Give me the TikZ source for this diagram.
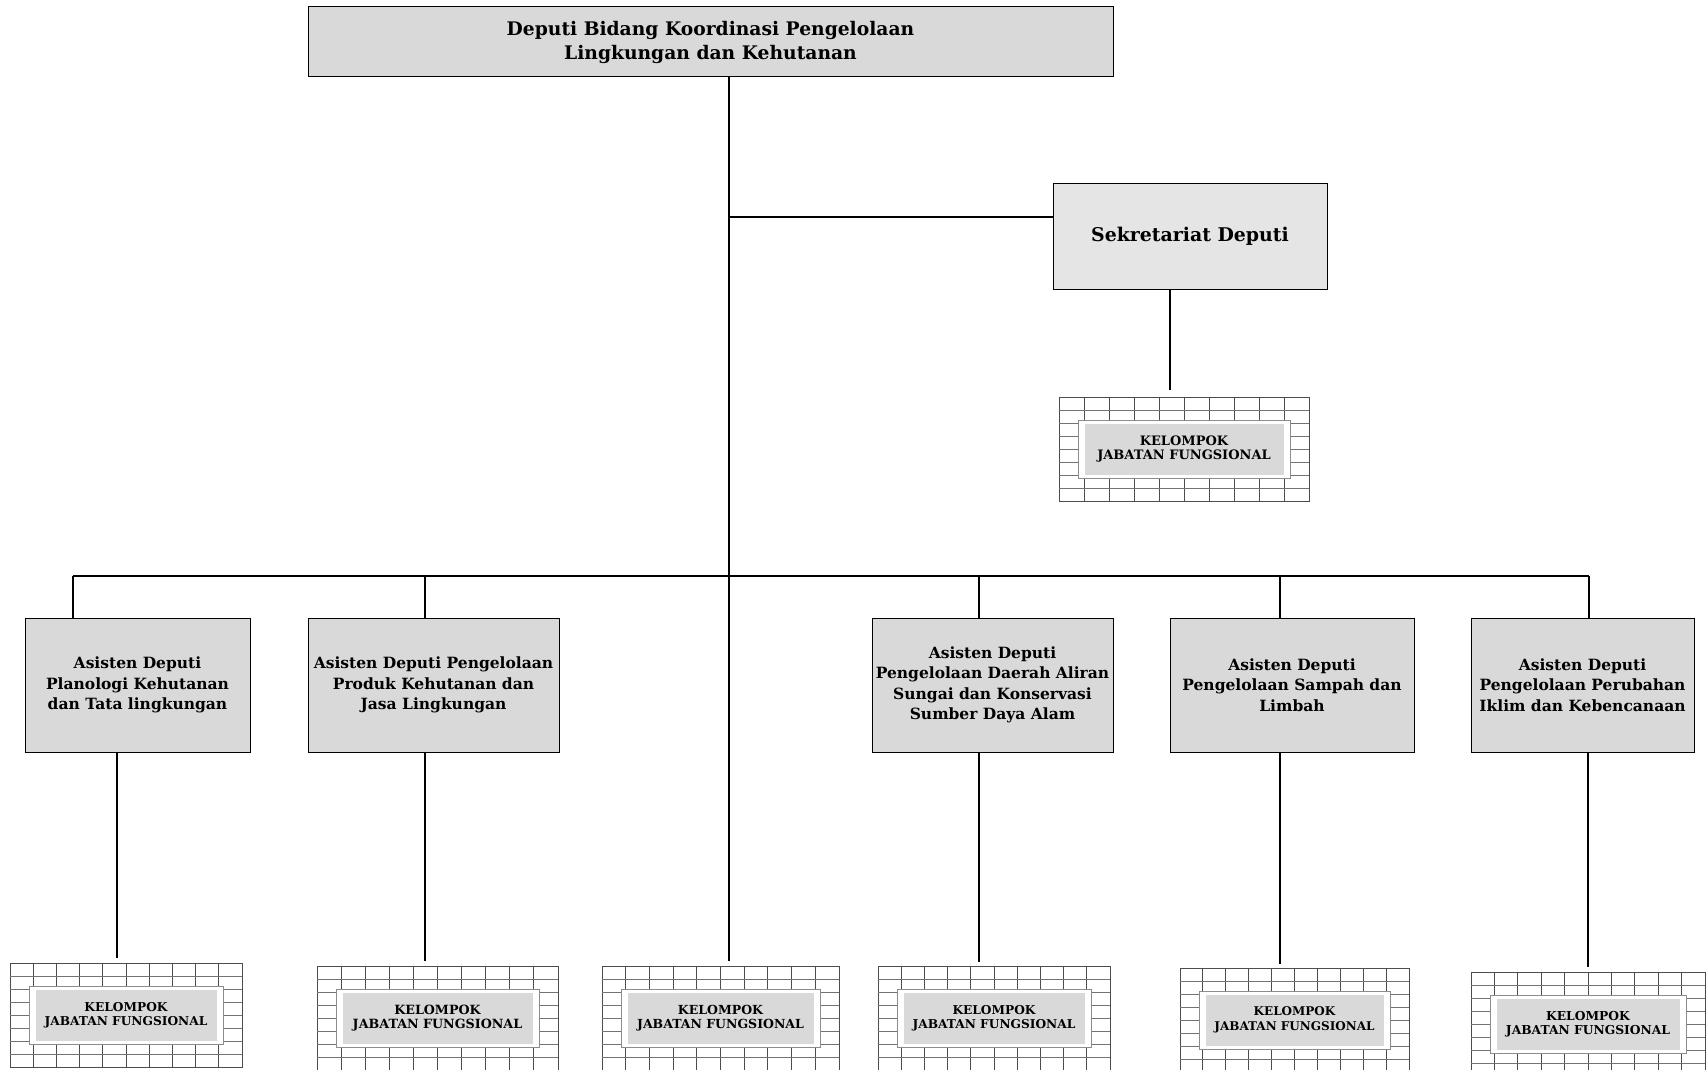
\documentclass[tikz,border=0pt]{standalone}
\usepackage{fontspec}
\setmainfont{DejaVu Serif}
\usetikzlibrary{calc}
\tikzset{
  conn/.style={line width=1.1pt, black},
  orgbox/.style={draw=black, line width=1pt, fill=black!15, inner sep=0pt, outer sep=0pt,
    align=center, anchor=north west, font=\bfseries\fontsize{15.5}{20.5}\selectfont},
  gridouter/.style={draw=black!70, line width=0.9pt, fill=white, inner sep=0pt, outer sep=0pt},
  gridv/.style={line width=0.9pt, black!70},
  gridh/.style={line width=0.9pt, black!55},
  kjfwhite/.style={draw=black!45, line width=1pt, fill=white, inner sep=0pt, outer sep=0pt},
  kjfgray/.style={fill=black!15, inner sep=0pt, outer sep=0pt, align=center},
}
\newcommand{\kjfbox}[6]{%
  \node[gridouter, anchor=north west, minimum width={(#4-#2)*1pt}, minimum height={(#5-#3)*1pt}] (#1) at (#2,#3) {};
  \foreach \i in {1,...,9}{\draw[gridv] ($(#1.north west)!\i/10!(#1.north east)$) -- ($(#1.south west)!\i/10!(#1.south east)$);}
  \foreach \j in {1,...,7}{\draw[gridh] ($(#1.north west)!\j/8!(#1.south west)$) -- ($(#1.north east)!\j/8!(#1.south east)$);}
  \node[kjfwhite, minimum width={(#4-#2-38)*1pt}, minimum height={(#5-#3-46)*1pt}] (#1w) at (#1.center) {};
  \node[kjfgray, minimum width={(#4-#2-51)*1pt}, minimum height={(#5-#3-53)*1pt},
    font=\bfseries\fontsize{#6}{14.5}\selectfont] (#1t) at (#1.center) {KELOMPOK\\JABATAN FUNGSIONAL};
}
\begin{document}
\begin{tikzpicture}[x=1pt,y=-1pt]
\useasboundingbox[fill=white] (0,0) rectangle (1708,1070);
% boxes
\node[orgbox, minimum width=805pt, minimum height=70pt, font=\bfseries\fontsize{18.7}{24}\selectfont] (top) at (308,7)
  {Deputi Bidang Koordinasi Pengelolaan\\Lingkungan dan Kehutanan};
\node[orgbox, fill=black!10, minimum width=274pt, minimum height=106pt, font=\bfseries\fontsize{18.9}{24}\selectfont] (sek) at (1053,183)
  {Sekretariat Deputi};
\node[orgbox, minimum width=225pt, minimum height=134pt] (a1) at (25,618)
  {Asisten Deputi\\Planologi Kehutanan\\dan Tata lingkungan};
\node[orgbox, minimum width=251pt, minimum height=134pt] (a2) at (308,618)
  {Asisten Deputi Pengelolaan\\Produk Kehutanan dan\\Jasa Lingkungan};
\node[orgbox, minimum width=241pt, minimum height=134pt] (a4) at (872,618)
  {Asisten Deputi\\Pengelolaan Daerah Aliran\\Sungai dan Konservasi\\Sumber Daya Alam};
\node[orgbox, minimum width=244pt, minimum height=134pt] (a5) at (1170,618)
  {Asisten Deputi\\Pengelolaan Sampah dan\\Limbah};
\node[orgbox, minimum width=223pt, minimum height=134pt] (a6) at (1471,618)
  {Asisten Deputi\\Pengelolaan Perubahan\\Iklim dan Kebencanaan};
% functional groups
\kjfbox{gs}{1059}{397}{1309}{501}{13}
\kjfbox{g1}{10}{963}{242}{1067}{12.2}
\kjfbox{g2}{317}{966}{558}{1070}{12.7}
\kjfbox{g3}{602}{966}{839}{1070}{12.5}
\kjfbox{g4}{878}{966}{1110}{1070}{12.2}
\kjfbox{g5}{1180}{968}{1409}{1072}{12}
\kjfbox{g6}{1471}{972}{1705}{1076}{12.3}
% junction coordinates
\coordinate (jS) at (729,217);
\coordinate (jB) at (729,576);
\coordinate (sd) at (1170,0);
\coordinate (d1) at (73,576);
\coordinate (d2) at (425,576);
\coordinate (d4) at (979,576);
\coordinate (d5) at (1280,576);
\coordinate (d6) at (1589,576);
\coordinate (l1) at (117,0);
\coordinate (l2) at (425,0);
\coordinate (l4) at (979,0);
\coordinate (l5) at (1280,0);
\coordinate (l6) at (1588,0);
% connectors
\draw[conn] (top.south -| jS) -- (jS) -- (jB) -- ([yshift=5pt]g3.north -| jB);
\draw[conn] (jS) -- (sek.west |- jS);
\draw[conn] (sek.south -| sd) -- ([yshift=7pt]gs.north -| sd);
\draw[conn] (d1) -- (d6);
\draw[conn] (d1) -- (d1 |- a1.north);
\draw[conn] (d2) -- (d2 |- a2.north);
\draw[conn] (d4) -- (d4 |- a4.north);
\draw[conn] (d5) -- (d5 |- a5.north);
\draw[conn] (d6) -- (d6 |- a6.north);
\draw[conn] (a1.south -| l1) -- ([yshift=5pt]g1.north -| l1);
\draw[conn] (a2.south -| l2) -- ([yshift=5pt]g2.north -| l2);
\draw[conn] (a4.south -| l4) -- ([yshift=4pt]g4.north -| l4);
\draw[conn] (a5.south -| l5) -- ([yshift=4pt]g5.north -| l5);
\draw[conn] (a6.south -| l6) -- ([yshift=5pt]g6.north -| l6);
\end{tikzpicture}
\end{document}
